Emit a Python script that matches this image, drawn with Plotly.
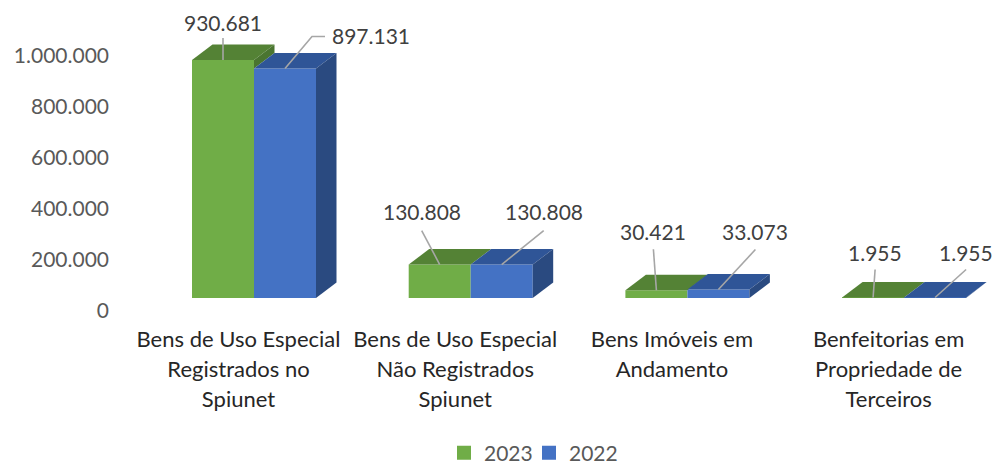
import plotly.graph_objects as go

# ---- data ----
categories = [
    ["Bens de Uso Especial", "Registrados no", "Spiunet"],
    ["Bens de Uso Especial", "Não Registrados", "Spiunet"],
    ["Bens Imóveis em", "Andamento"],
    ["Benfeitorias em", "Propriedade de", "Terceiros"],
]
values_2023 = [930681, 130808, 30421, 1955]
values_2022 = [897131, 130808, 33073, 1955]
y_tick_values = [0, 200000, 400000, 600000, 800000, 1000000]
y_tick_labels = ["0", "200.000", "400.000", "600.000", "800.000", "1.000.000"]

# ---- styling / geometry ----
W, H = 993, 466
FONT = "Lato"
PX_PER_GROUP = 216.7
PX_PER_VALUE = 0.0002558
X0_PX, Y0_PX = 254.0, 298.0          # front-plane origin
DEPTH_X = 20.5 / PX_PER_GROUP
DEPTH_Y = 15.5 / PX_PER_VALUE
BAR_W = 62.0 / PX_PER_GROUP
G_FRONT, G_TOP, G_SIDE = "#70ad47", "#548235", "#4a7530"
B_FRONT, B_TOP, B_SIDE = "#4472c4", "#2f5597", "#2a4a80"
LEADER = "#a6a6a6"
# label centre and leader start relative to the bar's front-top centre, px
label_off_2023 = [(0, 37), (-18, 53), (-3, 59), (2, 45)]
label_off_2022 = [(86, 33), (42, 53), (37, 58), (31, 45)]
leader_2023 = [[(0, 22)], [(-18, 34)], [(-3, 41)], [(2, 28)]]
leader_2022 = [[(40, 32), (27, 32)], [(42, 34)], [(37, 40)], [(31, 28)]]

def dx(px):
    return px / PX_PER_GROUP
def dy(px):
    return px / PX_PER_VALUE

cat_text = ["<br>".join(f'<span style="font-size:22px">{s}</span>' for s in c) for c in categories]
idx = list(range(len(categories)))

fig = go.Figure()
fig.add_bar(x=idx, y=values_2023, name="2023", marker_color=G_FRONT, marker_line_width=0,
            legendgroup="2023", showlegend=False)
fig.add_bar(x=idx, y=values_2022, name="2022", marker_color=B_FRONT, marker_line_width=0,
            legendgroup="2022", showlegend=False)
for nm, col, lg in (("2023", G_FRONT, "legend"), ("2022", B_FRONT, "legend2")):
    fig.add_scatter(x=[None], y=[None], name=nm, legendgroup=nm, legend=lg, mode="markers",
                    marker=dict(symbol="square", size=14, color=col), hoverinfo="skip")

def poly(xs, ys, color):
    fig.add_scatter(x=xs, y=ys, mode="lines", fill="toself", fillcolor=color,
                    line=dict(width=0, color=color), showlegend=False, hoverinfo="skip")

for i, g, b in zip(idx, values_2023, values_2022):
    gl, gr = i - BAR_W, i
    bl, br = i, i + BAR_W
    # green top
    poly([gl, gr, gr + DEPTH_X, gl + DEPTH_X, gl], [g, g, g + DEPTH_Y, g + DEPTH_Y, g], G_TOP)
    # green side, the part that shows above the blue bar
    if g > b:
        poly([gr, gr + DEPTH_X, gr + DEPTH_X, gr, gr],
             [g, g + DEPTH_Y, b + DEPTH_Y, b, g], G_SIDE)
    # blue top and side
    poly([bl, br, br + DEPTH_X, bl + DEPTH_X, bl], [b, b, b + DEPTH_Y, b + DEPTH_Y, b], B_TOP)
    poly([br, br + DEPTH_X, br + DEPTH_X, br, br], [b, b + DEPTH_Y, DEPTH_Y, 0, b], B_SIDE)

annotations = []
for vals, centre, offs, leads in (
    (values_2023, -BAR_W / 2, label_off_2023, leader_2023),
    (values_2022, BAR_W / 2, label_off_2022, leader_2022),
):
    for i, v in enumerate(vals):
        cx = i + centre
        pts = leads[i]
        fig.add_scatter(x=[cx + dx(p[0]) for p in pts] + [cx],
                        y=[v + dy(p[1]) for p in pts] + [v],
                        mode="lines", line=dict(color=LEADER, width=1.6),
                        showlegend=False, hoverinfo="skip")
        annotations.append(dict(
            x=cx, y=v, xref="x", yref="y", showarrow=False,
            text=f"{v:,}".replace(",", "."), xshift=offs[i][0], yshift=offs[i][1],
            font=dict(family=FONT, size=21, color="#404040"),
        ))

# carrier for the visible axes, which sit apart from the front plane
fig.add_scatter(x=idx, y=[0] * len(idx), xaxis="x2", yaxis="y2", mode="markers",
                marker=dict(opacity=0), showlegend=False, hoverinfo="skip")

legend_style = dict(orientation="h", yanchor="middle", y=13 / H, xanchor="left",
                    font=dict(family=FONT, size=21, color="#595959"),
                    itemwidth=30, bgcolor="rgba(0,0,0,0)")

LAB_X0 = 238.5
lab_left, lab_right = 110.0, 988.0
fig.update_layout(
    width=W, height=H, margin=dict(l=0, r=0, t=0, b=0, autoexpand=False),
    paper_bgcolor="white", plot_bgcolor="rgba(0,0,0,0)",
    barmode="group", bargap=1 - 2 * BAR_W, bargroupgap=0,
    font=dict(family=FONT),
    showlegend=True,
    legend=dict(x=444 / W, **legend_style),
    legend2=dict(x=529 / W, **legend_style),
    annotations=annotations,
    xaxis=dict(visible=False, domain=[0, 1],
               range=[(0 - X0_PX) / PX_PER_GROUP, (W - X0_PX) / PX_PER_GROUP]),
    yaxis=dict(visible=False, domain=[0, 1],
               range=[(Y0_PX - H) / PX_PER_VALUE, Y0_PX / PX_PER_VALUE]),
    xaxis2=dict(domain=[lab_left / W, lab_right / W], anchor="y2",
                range=[(lab_left - LAB_X0) / PX_PER_GROUP, (lab_right - LAB_X0) / PX_PER_GROUP],
                tickmode="array", tickvals=idx, ticktext=cat_text,
                showgrid=False, zeroline=False, showline=False, ticks="", tickangle=0,
                ticklabelstandoff=12, tickfont=dict(family=FONT, size=23, color="#262626")),
    yaxis2=dict(domain=[(H - 311) / H, (H - 56) / H], anchor="x2",
                range=[0, 1000000], tickmode="array", tickvals=y_tick_values, ticktext=y_tick_labels,
                showgrid=False, zeroline=False, showline=False, ticks="",
                tickfont=dict(family=FONT, size=21, color="#595959")),
)

fig.write_html("out.html", config=dict(displayModeBar=False),
               post_script="document.body.style.margin='0';")
